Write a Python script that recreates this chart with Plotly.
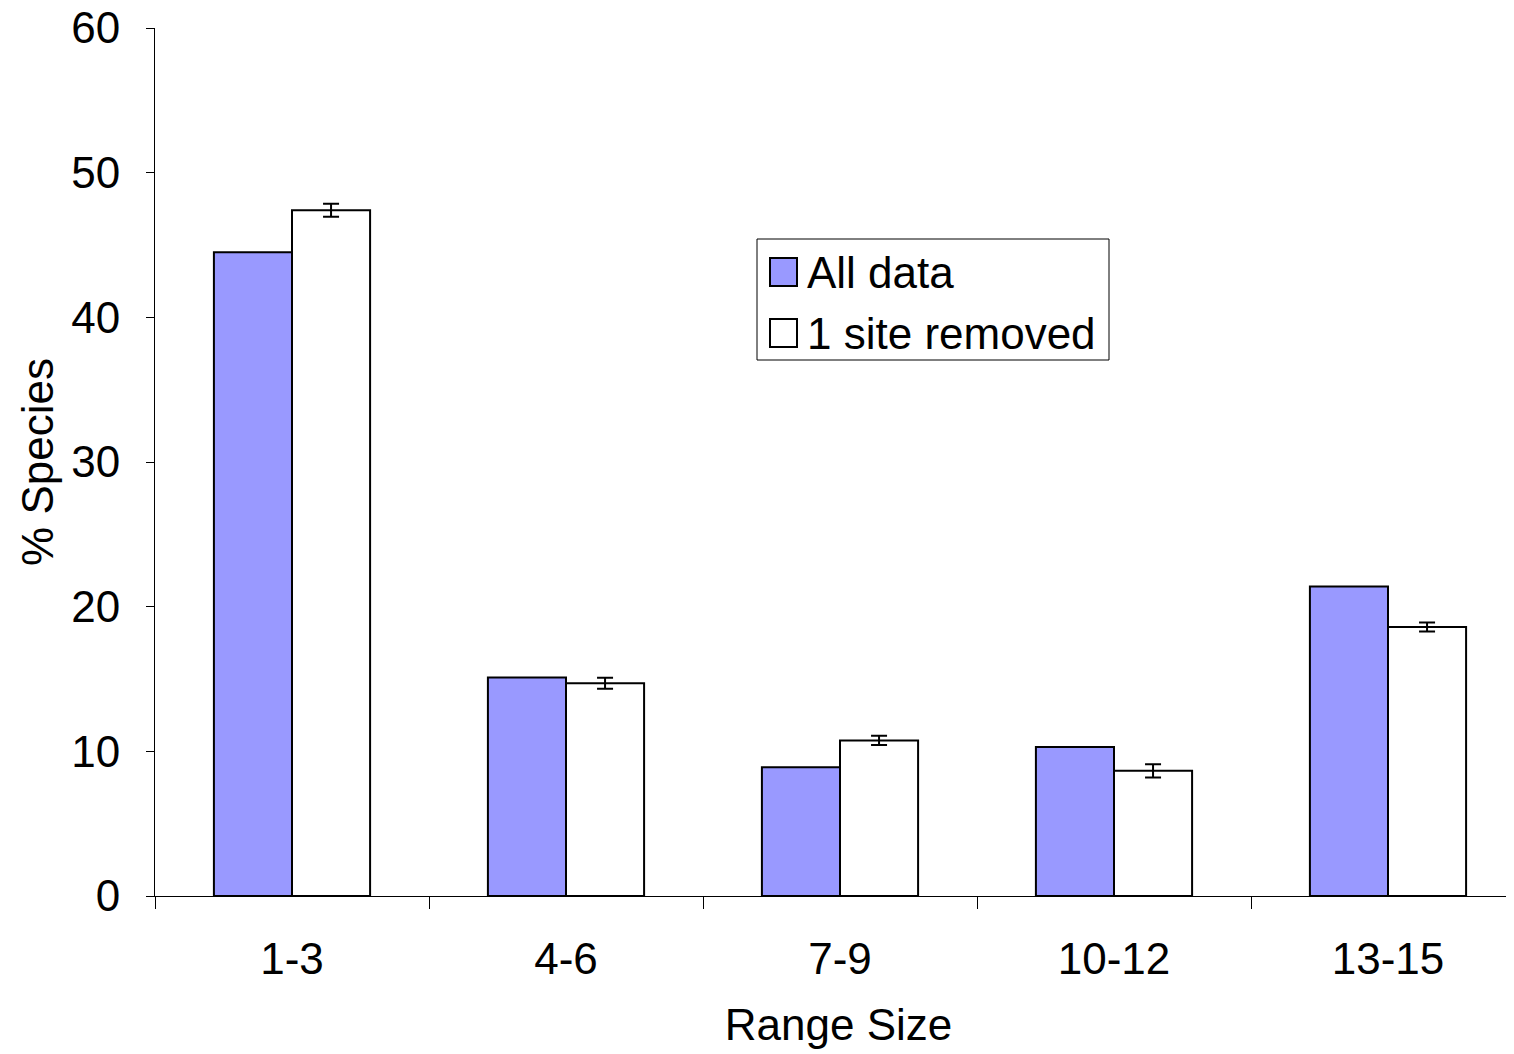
import plotly.graph_objects as go

categories = ["1-3", "4-6", "7-9", "10-12", "13-15"]
all_data = [44.5, 15.1, 8.9, 10.3, 21.4]
site_removed = [47.4, 14.7, 10.75, 8.65, 18.6]
site_removed_err = [0.45, 0.38, 0.32, 0.46, 0.31]
series_names = ["All data", "1 site removed"]
series_colors = ["#9999FF", "white"]

FONT = "Liberation Sans, Arial, sans-serif"
W, H = 1514, 1054
OFF = 8  # page offset of the figure in the browser
L, R, T, B = 155 - OFF, 0, 28 - OFF, H - (896 - OFF)
PW, PH = W - L - R, H - T - B


def px(x):
    return (x - OFF - L) / PW


def py(y):
    return (H - B - (y - OFF)) / PH


fig = go.Figure()
fig.add_trace(go.Bar(
    x=categories, y=all_data, name=series_names[0], showlegend=False,
    marker=dict(color=series_colors[0], line=dict(color="black", width=2)),
))
fig.add_trace(go.Bar(
    x=categories, y=site_removed, name=series_names[1], showlegend=False,
    marker=dict(color=series_colors[1], line=dict(color="black", width=2)),
    error_y=dict(type="data", array=site_removed_err, color="black", thickness=2, width=8),
))

# manual legend (box, swatches, labels)
shapes = [dict(type="rect", xref="paper", yref="paper",
               x0=px(757), x1=px(1109), y0=py(360), y1=py(239),
               line=dict(color="black", width=1), fillcolor="white", layer="above")]
annotations = []
for i, (nm, col) in enumerate(zip(series_names, series_colors)):
    cy = 272 + i * 61
    shapes.append(dict(type="rect", xref="paper", yref="paper",
                       x0=px(770), x1=px(797), y0=py(cy + 14), y1=py(cy - 14),
                       line=dict(color="black", width=2), fillcolor=col, layer="above"))
    annotations.append(dict(text=nm, xref="paper", yref="paper", x=px(805), y=py(cy),
                            xanchor="left", yanchor="middle", showarrow=False,
                            font=dict(size=44, family=FONT, color="black")))

fig.update_layout(
    width=W, height=H,
    margin=dict(l=L, r=R, t=T, b=B, autoexpand=False),
    paper_bgcolor="white", plot_bgcolor="white",
    barmode="group", bargap=0.43, bargroupgap=0,
    font=dict(family=FONT, size=44, color="black"),
    showlegend=False,
    shapes=shapes, annotations=annotations,
    xaxis=dict(
        type="category",
        range=[-0.5, -0.5 + PW / 274],
        showline=True, linecolor="black", linewidth=1,
        ticks="outside", tickson="boundaries", ticklen=12, tickcolor="black",
        showgrid=False, zeroline=False, automargin=False,
        ticklabelstandoff=24, ticklabeloverflow="allow",
        title=dict(text="Range Size", standoff=27, font=dict(size=44)),
        tickfont=dict(size=44),
    ),
    yaxis=dict(
        range=[0, 60], dtick=10,
        showline=True, linecolor="black", linewidth=1,
        ticks="outside", ticklen=8, tickcolor="black",
        showgrid=False, zeroline=False, automargin=False,
        ticklabelstandoff=17, ticklabeloverflow="allow",
        title=dict(text="% Species", standoff=3, font=dict(size=44)),
        tickfont=dict(size=44),
    ),
)

fig.write_html("out.html")
